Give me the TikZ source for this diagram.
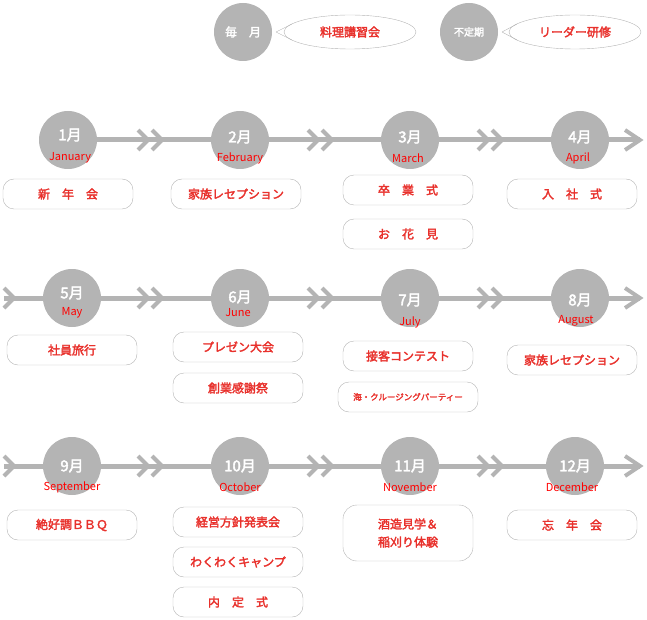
\documentclass[tikz,border=0pt]{standalone}
\usepackage{fontspec}
\setmainfont{Noto Sans CJK JP}[AutoFakeBold=2.5]
\usetikzlibrary{shapes.geometric, arrows}
\definecolor{mgray}{HTML}{B4B4B4}
\definecolor{mred}{HTML}{E8312C}
\tikzstyle{month} = [circle, fill=mgray, minimum size=58pt, inner sep=0pt]
\tikzstyle{event} = [rectangle, rounded corners=11pt, minimum width=130pt, minimum height=30pt, draw=mgray, text=mred, font=\bfseries\fontsize{12}{14}\selectfont, align=center]
\tikzstyle{eng} = [text=red, font=\fontsize{11}{12}\selectfont]
\tikzstyle{num} = [text=white, font=\bfseries\fontsize{15}{16}\selectfont]
\tikzstyle{tline} = [mgray, line width=5pt]
\tikzstyle{chev} = [mgray, line width=4pt]

\begin{document}
\begin{tikzpicture}[x=1pt,y=-1pt]
            \useasboundingbox (0,0) rectangle (647,620);
            % top legend
            \node (maitsuki) [month] at (243,32) {};
            \node [num, font=\bfseries\fontsize{12}{13}\selectfont] at (maitsuki) {毎　月};
            \node (ryouri) [ellipse, draw=mgray, minimum width=132pt, minimum height=34pt, text=mred, font=\bfseries\fontsize{12}{14}\selectfont] at (350,32) {料理講習会};
            \draw [mgray] (276,32) -- (292,24) (276,32) -- (292,40);
            \node (futeiki) [month] at (469,32) {};
            \node [num, font=\bfseries\fontsize{10}{11}\selectfont] at (futeiki) {不定期};
            \node (leader) [ellipse, draw=mgray, minimum width=132pt, minimum height=34pt, text=mred, font=\bfseries\fontsize{12}{14}\selectfont] at (575,32) {リーダー研修};
            \draw [mgray] (502,32) -- (517,24) (502,32) -- (517,40);

            % timelines
            \coordinate (s1) at (68,140);  \coordinate (e1) at (640,140);
            \coordinate (s2) at (4,298);   \coordinate (e2) at (640,298);
            \coordinate (s3) at (4,466);   \coordinate (e3) at (640,466);
            \draw [tline] (s1) -- (e1);
            \draw [tline] (s2) -- (e2);
            \draw [tline] (s3) -- (e3);
            \foreach \y in {140,298,466} {
                \draw [chev] (625,\y-10) -- (640,\y) -- (625,\y+10);
                \foreach \x in {150,320,490} {
                    \draw [chev] (\x-12,\y-10) -- (\x-2,\y) -- (\x-12,\y+10);
                    \draw [chev] (\x+2,\y-10) -- (\x+12,\y) -- (\x+2,\y+10);
                }
            }
            \foreach \y in {298,466} {
                \draw [chev] (4,\y-10) -- (14,\y) -- (4,\y+10);
            }

            % row 1
            \node (jan) [month] at (68,140) {};
            \node (feb) [month] at (240,140) {};
            \node (mar) [month] at (410,140) {};
            \node (apr) [month] at (580,140) {};
            \node [num] at (70,135) {1月};
            \node [num] at (240,137) {2月};
            \node [num] at (410,137) {3月};
            \node [num] at (580,137) {4月};
            \node [eng] at (70,158) {January};
            \node [eng] at (240,158) {February};
            \node [eng] at (408,158) {March};
            \node [eng] at (578,158) {April};
            \node (shinnen) [event] at (68,194) {新　年　会};
            \node (kazoku1) [event] at (236,194) {家族レセプション};
            \node (sotsugyo) [event] at (408,190) {卒　業　式};
            \node (hanami) [event] at (408,234) {お　花　見};
            \node (nyusha) [event] at (572,194) {入　社　式};

            % row 2
            \node (may) [month] at (72,298) {};
            \node (jun) [month] at (240,298) {};
            \node (jul) [month] at (410,298) {};
            \node (aug) [month] at (580,298) {};
            \node [num] at (72,293) {5月};
            \node [num] at (240,297) {6月};
            \node [num] at (410,300) {7月};
            \node [num] at (580,300) {8月};
            \node [eng] at (72,313) {May};
            \node [eng] at (238,313) {June};
            \node [eng] at (410,322) {July};
            \node [eng] at (576,321) {August};
            \node (shain) [event] at (72,350) {社員旅行};
            \node (presen) [event] at (238,347) {プレゼン大会};
            \node (sogyo) [event] at (238,388) {創業感謝祭};
            \node (sekkyaku) [event] at (408,356) {接客コンテスト};
            \node (umi) [event, minimum width=140pt, font=\bfseries\fontsize{8.5}{10}\selectfont] at (408,397) {海・クルージングパーティー};
            \node (kazoku2) [event] at (572,360) {家族レセプション};

            % row 3
            \node (sep) [month] at (72,466) {};
            \node (oct) [month] at (240,466) {};
            \node (nov) [month] at (410,466) {};
            \node (dec) [month] at (575,466) {};
            \node [num] at (72,466) {9月};
            \node [num] at (240,466) {10月};
            \node [num] at (410,466) {11月};
            \node [num] at (575,466) {12月};
            \node [eng] at (72,487) {September};
            \node [eng] at (240,487) {October};
            \node [eng] at (410,487) {November};
            \node [eng] at (572,487) {December};
            \node (bbq) [event] at (72,525) {絶好調ＢＢＱ};
            \node (keiei) [event] at (238,522) {経営方針発表会};
            \node (camp) [event] at (238,562) {わくわくキャンプ};
            \node (naitei) [event] at (238,602) {内　定　式};
            \node (shuzo) [event, minimum height=56pt, rounded corners=14pt, font=\bfseries\fontsize{12}{18}\selectfont] at (408,533) {酒造見学＆\\稲刈り体験};
            \node (bonen) [event] at (572,525) {忘　年　会};
        \end{tikzpicture}
\end{document}
